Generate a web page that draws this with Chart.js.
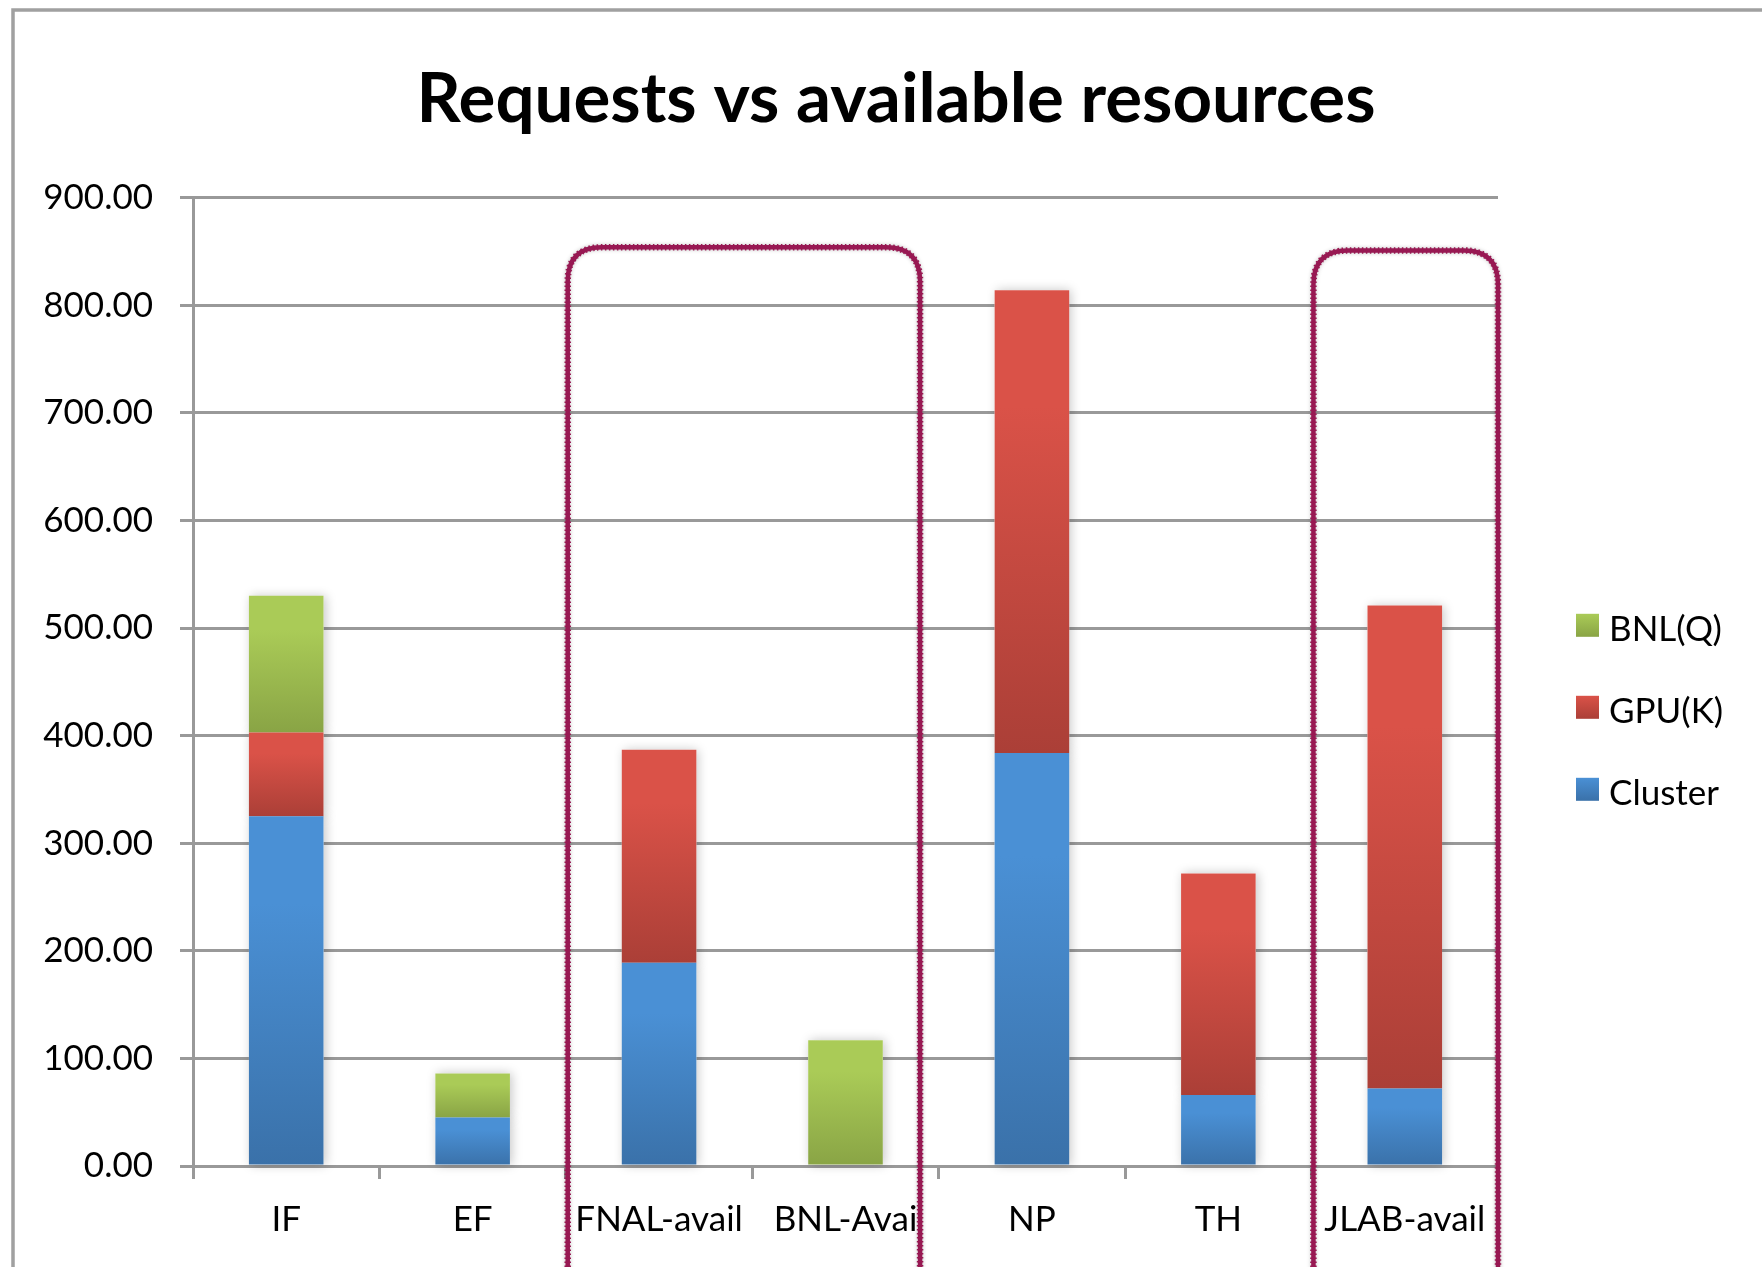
<!DOCTYPE html>
<html>
<head>
<meta charset="utf-8">
<script src="https://cdn.jsdelivr.net/npm/chart.js@4/dist/chart.umd.min.js"></script>
<style>
  html, body { margin: 0; padding: 0; background: #ffffff; }
  canvas { display: block; }
</style>
</head>
<body>
<canvas id="c" width="1762" height="1267"></canvas>
<script>
// ---- data ----
const categories = ['IF', 'EF', 'FNAL-avail', 'BNL-Avai', 'NP', 'TH', 'JLAB-avail'];
const clusterValues = [325, 45, 189, 0, 384, 66, 72];
const gpuValues     = [78, 0, 198, 0, 430, 206, 449];
const bnlValues     = [127, 41, 0, 117, 0, 0, 0];
const seriesNames   = ['Cluster', 'GPU(K)', 'BNL(Q)'];
const yTicks        = [0, 100, 200, 300, 400, 500, 600, 700, 800, 900];
const chartTitle    = 'Requests vs available resources';
// highlighted groups: [first category index, last category index, top value]
const highlightGroups = [[2, 3, 854], [6, 6, 851]];

// ---- styles ----
const gradStops = [
  ['#4a90d5', '#3a71a9'],   // Cluster
  ['#da5248', '#ab3f37'],   // GPU
  ['#aacb57', '#89a445']    // BNL
];
const GRID = '#999999';
const FONT = 'Lato, "Open Sans", "DejaVu Sans", sans-serif';

function makeBg(dsIndex) {
  return function (ctx) {
    const chart = ctx.chart;
    const stops = gradStops[dsIndex];
    if (ctx.type !== 'data' || !chart.chartArea || !chart.scales.y) return stops[0];
    const j = ctx.dataIndex;
    let base = 0;
    for (let k = 0; k < dsIndex; k++) base += chart.data.datasets[k].data[j] || 0;
    const top = base + (chart.data.datasets[dsIndex].data[j] || 0);
    const ys = chart.scales.y;
    const y0 = ys.getPixelForValue(top);
    const y1 = ys.getPixelForValue(base);
    if (Math.abs(y1 - y0) < 0.5) return stops[0];
    const g = chart.ctx.createLinearGradient(0, y0, 0, y1);
    g.addColorStop(0, stops[0]);
    g.addColorStop(0.25, stops[0]);
    g.addColorStop(1, stops[1]);
    return g;
  };
}

const seriesData = [clusterValues, gpuValues, bnlValues];
const datasets = seriesData.map((vals, i) => ({
  label: seriesNames[i],
  data: vals,
  backgroundColor: makeBg(i),
  borderWidth: 0,
  categoryPercentage: 1.0,
  barPercentage: 0.4,
  stack: 's'
}));

function boxPath(c, left, right, top, bottom, r) {
  c.beginPath();
  c.moveTo(left, bottom);
  c.lineTo(left, top + r);
  c.quadraticCurveTo(left, top, left + r, top);
  c.lineTo(right - r, top);
  c.quadraticCurveTo(right, top, right, top + r);
  c.lineTo(right, bottom);
}

const decoPlugin = {
  id: 'deco',
  beforeDraw(chart) {
    const c = chart.ctx;
    c.save();
    c.fillStyle = '#ffffff';
    c.fillRect(0, 0, chart.width, chart.height);
    c.strokeStyle = '#a0a0a0';
    c.lineWidth = 3.5;
    c.beginPath();
    c.moveTo(13, chart.height + 5);
    c.lineTo(13, 10);
    c.lineTo(chart.width + 5, 10);
    c.stroke();
    c.restore();
  },
  beforeDatasetsDraw(chart) {
    // soft shadows behind the bars
    const c = chart.ctx;
    c.save();
    c.shadowColor = 'rgba(0,0,0,0.22)';
    c.shadowBlur = 10;
    c.shadowOffsetX = 2;
    c.shadowOffsetY = 0;
    c.fillStyle = '#ffffff';
    chart.data.datasets.forEach((ds, i) => {
      const meta = chart.getDatasetMeta(i);
      meta.data.forEach(el => {
        const p = el.getProps(['x', 'y', 'base', 'width'], true);
        const h = Math.abs(p.base - p.y);
        if (h < 0.5) return;
        c.fillRect(p.x - p.width / 2, Math.min(p.y, p.base), p.width, h);
      });
    });
    c.restore();
  },
  afterDraw(chart) {
    const c = chart.ctx;
    const xs = chart.scales.x, ys = chart.scales.y;
    const area = chart.chartArea;
    const step = xs.getPixelForValue(1) - xs.getPixelForValue(0);

    // legend (reverse order, top = last series)
    c.save();
    const sq = 23;
    const lx = area.right + 78;
    let ly = area.top + 416;
    c.font = '35px ' + FONT;
    c.textBaseline = 'middle';
    c.textAlign = 'left';
    for (let i = chart.data.datasets.length - 1; i >= 0; i--) {
      const g = c.createLinearGradient(0, ly, 0, ly + sq);
      g.addColorStop(0, gradStops[i][0]);
      g.addColorStop(1, gradStops[i][1]);
      c.fillStyle = g;
      c.fillRect(lx, ly, sq, sq);
      c.fillStyle = '#000000';
      c.fillText(chart.data.datasets[i].label, lx + 33, ly + sq / 2 + 4);
      ly += 82;
    }
    c.restore();

    // hand-drawn style highlight boxes
    c.save();
    c.lineJoin = 'round';
    highlightGroups.forEach(([a, b, v]) => {
      const left = xs.getPixelForValue(a) - 0.49 * step;
      const right = xs.getPixelForValue(b) + (b === categories.length - 1 ? 0.5 : 0.4) * step;
      const top = ys.getPixelForValue(v);
      const bottom = chart.height + 60;
      const r = 34;
      c.shadowColor = 'rgba(0,0,0,0.25)';
      c.shadowBlur = 4;
      c.strokeStyle = '#981953';
      c.lineWidth = 4.5;
      c.setLineDash([]);
      boxPath(c, left, right, top, bottom, r);
      c.stroke();
      c.shadowBlur = 0;
      c.lineWidth = 6.5;
      c.setLineDash([1.5, 2.5]);
      boxPath(c, left, right, top, bottom, r);
      c.stroke();
    });
    c.restore();
  }
};

new Chart(document.getElementById('c'), {
  type: 'bar',
  data: { labels: categories, datasets: datasets },
  options: {
    responsive: false,
    animation: false,
    layout: { padding: { left: 30, right: 0, top: 0, bottom: 0 } },
    plugins: {
      legend: { display: false },
      tooltip: { enabled: false },
      title: {
        display: true,
        text: chartTitle,
        color: '#000000',
        font: { family: FONT, size: 69, weight: 'bold', lineHeight: 1.2 },
        padding: { top: 58, bottom: 57 }
      }
    },
    scales: {
      x: {
        stacked: true,
        grid: {
          display: true, offset: true, drawOnChartArea: false, drawTicks: true,
          tickLength: 13, color: GRID, lineWidth: 3
        },
        border: { display: true, color: GRID, width: 3 },
        ticks: { color: '#000000', font: { family: FONT, size: 35 }, padding: 20, maxRotation: 0, autoSkip: false },
        afterFit(s) { s.height = 101; }
      },
      y: {
        stacked: true,
        min: 0, max: 900,
        afterBuildTicks(s) { s.ticks = yTicks.map(v => ({ value: v })); },
        grid: { color: GRID, lineWidth: 3, tickLength: 13, drawTicks: true },
        border: { display: true, color: GRID, width: 3 },
        ticks: {
          color: '#000000', font: { family: FONT, size: 35 }, padding: 27,
          callback: v => Number(v).toFixed(2)
        },
        afterFit(s) { s.width = 163; }
      },
      pad: {
        type: 'linear', position: 'right', display: true,
        grid: { display: false }, border: { display: false }, ticks: { display: false },
        afterFit(s) { s.width = 264; }
      }
    }
  },
  plugins: [decoPlugin]
});
</script>
</body>
</html>
